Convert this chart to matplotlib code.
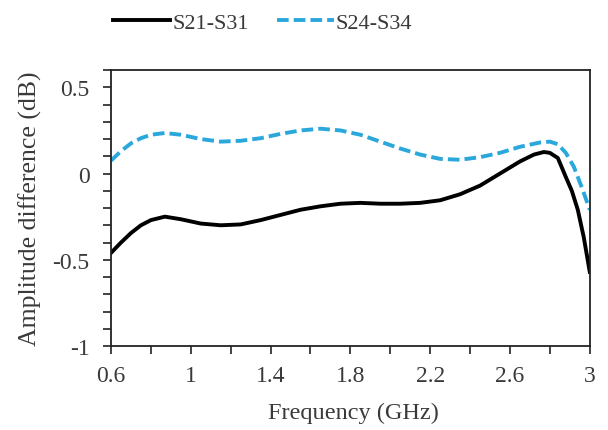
import matplotlib
matplotlib.use("Agg")
import matplotlib.pyplot as plt
from matplotlib.ticker import MultipleLocator

freq_a = [0.60, 0.65, 0.70, 0.75, 0.80, 0.87, 0.95, 1.05, 1.15, 1.25, 1.35, 1.45, 1.55, 1.65,
          1.75, 1.85, 1.95, 2.05, 2.15, 2.25, 2.35, 2.45, 2.55, 2.65, 2.72, 2.77, 2.80, 2.84,
          2.88, 2.91, 2.94, 2.97, 3.00]
s21_s31 = [-0.46, -0.40, -0.345, -0.30, -0.27, -0.25, -0.265, -0.29, -0.30, -0.295, -0.27,
           -0.24, -0.21, -0.19, -0.175, -0.17, -0.175, -0.175, -0.17, -0.155, -0.12, -0.07,
           0.00, 0.07, 0.11, 0.125, 0.12, 0.09, -0.02, -0.10, -0.21, -0.37, -0.57]

freq_b = [0.60, 0.65, 0.70, 0.75, 0.80, 0.87, 0.95, 1.05, 1.15, 1.25, 1.35, 1.45, 1.55, 1.65,
          1.75, 1.85, 1.95, 2.05, 2.15, 2.25, 2.35, 2.45, 2.55, 2.65, 2.75, 2.80, 2.84, 2.88,
          2.92, 2.96, 3.00]
s24_s34 = [0.075, 0.13, 0.175, 0.205, 0.225, 0.235, 0.225, 0.20, 0.185, 0.19, 0.205, 0.23,
           0.25, 0.26, 0.25, 0.225, 0.185, 0.145, 0.11, 0.085, 0.08, 0.095, 0.12, 0.155, 0.18,
           0.185, 0.17, 0.12, 0.04, -0.08, -0.21]

x_ticks = [0.6, 1.0, 1.4, 1.8, 2.2, 2.6, 3.0]
x_tick_labels = ["0.6", "1", "1.4", "1.8", "2.2", "2.6", "3"]
y_ticks = [-1, -0.5, 0, 0.5]
y_tick_labels = ["-1", "-0.5", "0", "0.5"]

plt.rcParams['font.family'] = ['Liberation Serif', 'DejaVu Serif']

fig = plt.figure(figsize=(6.08, 4.31), dpi=100)
ax = fig.add_axes([0.1826, 0.1949, 0.7874, 0.6402])

l1, = ax.plot(freq_a, s21_s31, color='black', lw=2.8, label='S21-S31')
l2, = ax.plot(freq_b, s24_s34, color='#2aa8dc', lw=2.8, dashes=(3, 1.3), label='S24-S34')

ax.set_xlim(0.6, 3.0)
ax.set_ylim(-1, 0.6)
ax.set_xticks(x_ticks)
ax.set_xticklabels(x_tick_labels)
ax.set_yticks(y_ticks)
ax.set_yticklabels(y_tick_labels)
ax.xaxis.set_minor_locator(MultipleLocator(0.2))
ax.yaxis.set_minor_locator(MultipleLocator(0.1))
ax.tick_params(which='both', direction='out', length=5.5, width=1.2, color='#222222',
               labelsize=17, labelcolor='#3a3a3a')
ax.tick_params(axis='x', pad=8)
ax.tick_params(axis='y', pad=10)
for s in ax.spines.values():
    s.set_linewidth(1.3)
    s.set_color('#222222')

ax.set_xlabel('Frequency (GHz)', fontsize=17.5, color='#3a3a3a')
ax.set_ylabel('Amplitude difference (dB)', fontsize=18.5, color='#3a3a3a')
ax.xaxis.set_label_coords(0.507, -0.203)
ax.yaxis.set_label_coords(-0.144, 0.5)

fig.legend(handles=[l1, l2], loc='center', bbox_to_anchor=(0.432, 0.945), ncol=2,
           frameon=False, fontsize=16, handlelength=2.57, handletextpad=0.1,
           columnspacing=1.26, labelcolor='#3a3a3a')

fig.savefig('out.png', dpi=100)
